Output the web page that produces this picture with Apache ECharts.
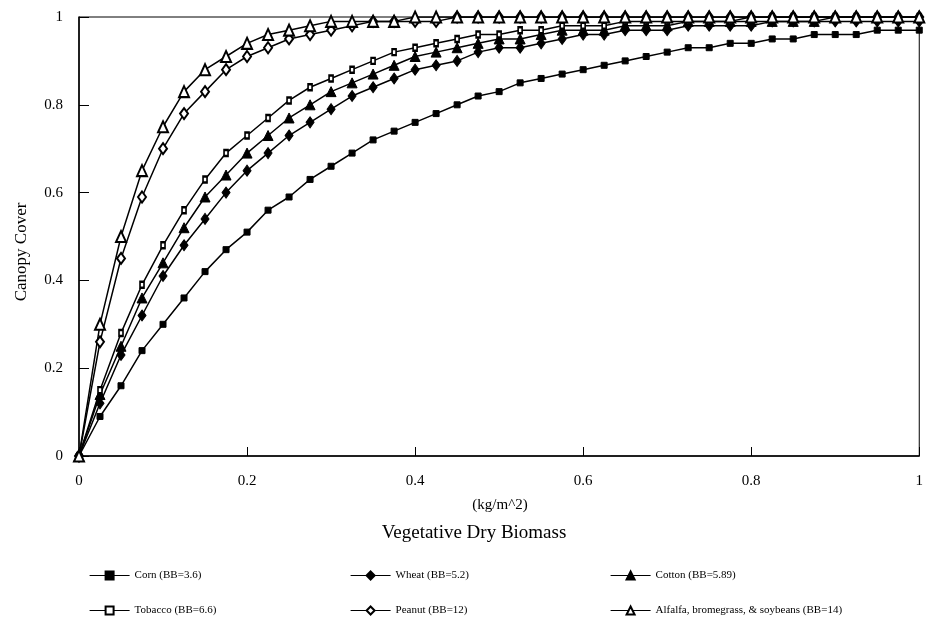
<!DOCTYPE html>
<html>
<head>
<meta charset="utf-8">
<script src="https://cdn.jsdelivr.net/npm/echarts@6/dist/echarts.min.js"></script>
<style>html,body{margin:0;padding:0;background:#fff;}#c{width:926px;height:619px;}</style>
</head>
<body>
<div id="c"></div>
<script>
const biomass = [0,0.025,0.05,0.075,0.1,0.125,0.15,0.175,0.2,0.225,0.25,0.275,0.3,0.325,0.35,0.375,0.4,0.425,0.45,0.475,0.5,0.525,0.55,0.575,0.6,0.625,0.65,0.675,0.7,0.725,0.75,0.775,0.8,0.825,0.85,0.875,0.9,0.925,0.95,0.975,1];
const corn = [0,0.09,0.16,0.24,0.30,0.36,0.42,0.47,0.51,0.56,0.59,0.63,0.66,0.69,0.72,0.74,0.76,0.78,0.80,0.82,0.83,0.85,0.86,0.87,0.88,0.89,0.90,0.91,0.92,0.93,0.93,0.94,0.94,0.95,0.95,0.96,0.96,0.96,0.97,0.97,0.97];
const wheat = [0,0.12,0.23,0.32,0.41,0.48,0.54,0.60,0.65,0.69,0.73,0.76,0.79,0.82,0.84,0.86,0.88,0.89,0.90,0.92,0.93,0.93,0.94,0.95,0.96,0.96,0.97,0.97,0.97,0.98,0.98,0.98,0.98,0.99,0.99,0.99,0.99,0.99,0.99,0.99,0.99];
const cotton = [0,0.14,0.25,0.36,0.44,0.52,0.59,0.64,0.69,0.73,0.77,0.80,0.83,0.85,0.87,0.89,0.91,0.92,0.93,0.94,0.95,0.95,0.96,0.97,0.97,0.97,0.98,0.98,0.98,0.99,0.99,0.99,0.99,0.99,0.99,0.99,1.00,1.00,1.00,1.00,1.00];
const tobacco = [0,0.15,0.28,0.39,0.48,0.56,0.63,0.69,0.73,0.77,0.81,0.84,0.86,0.88,0.90,0.92,0.93,0.94,0.95,0.96,0.96,0.97,0.97,0.98,0.98,0.98,0.99,0.99,0.99,0.99,0.99,0.99,1.00,1.00,1.00,1.00,1.00,1.00,1.00,1.00,1.00];
const peanut = [0,0.26,0.45,0.59,0.70,0.78,0.83,0.88,0.91,0.93,0.95,0.96,0.97,0.98,0.99,0.99,0.99,0.99,1.00,1.00,1.00,1.00,1.00,1.00,1.00,1.00,1.00,1.00,1.00,1.00,1.00,1.00,1.00,1.00,1.00,1.00,1.00,1.00,1.00,1.00,1.00];
const alfalfa = [0,0.30,0.50,0.65,0.75,0.83,0.88,0.91,0.94,0.96,0.97,0.98,0.99,0.99,0.99,0.99,1.00,1.00,1.00,1.00,1.00,1.00,1.00,1.00,1.00,1.00,1.00,1.00,1.00,1.00,1.00,1.00,1.00,1.00,1.00,1.00,1.00,1.00,1.00,1.00,1.00];
const names = ['Corn (BB=3.6)','Wheat (BB=5.2)','Cotton (BB=5.89)','Tobacco (BB=6.6)','Peanut (BB=12)','Alfalfa, bromegrass, & soybeans (BB=14)'];

const FONT = 'Liberation Serif';
const chart = echarts.init(document.getElementById('c'), null, {renderer:'canvas'});
function pairs(ys){ return biomass.map((x,i)=>[x, ys[i]]); }
const specs = [
  {data: corn, symbol:'rect', size:[6,6]},
  {data: wheat, symbol:'diamond', size:[8,11]},
  {data: cotton, symbol:'triangle', size:[10,10]},
  {data: tobacco, symbol:'emptyRect', size:[4,6]},
  {data: peanut, symbol:'emptyDiamond', size:[8,11]},
  {data: alfalfa, symbol:'emptyTriangle', size:[10,11]}
];
const series = specs.map((s,i)=>({
  name: names[i], type:'line', data: pairs(s.data),
  symbol: s.symbol, symbolSize: s.size, showAllSymbol: true,
  lineStyle:{color:'#000', width:1.5},
  itemStyle:{color:'#000', borderColor:'#000', borderWidth:1},
  emphasis:{disabled:true}, animation:false
}));
const legPos = [[89,570],[350,570],[610,570],[89,605],[350,605],[610,605]];
const legend = names.map((n,i)=>({
  data:[n], left: legPos[i][0], top: legPos[i][1], itemWidth:40, itemHeight:10, padding:0,
  lineStyle:{width:1.2},
  textStyle:{fontFamily:FONT, fontSize:11, color:'#000'}, selectedMode:false
}));
chart.setOption({
  backgroundColor:'#fff',
  animation:false,
  grid:{left:79, right:4, top:17, bottom:163, show:true, borderColor:'#000', borderWidth:1},
  xAxis:{type:'value', min:0, max:1, interval:0.2,
    axisLine:{lineStyle:{color:'#000', width:1.5}},
    axisTick:{inside:true, length:9, lineStyle:{color:'#000'}},
    axisLabel:{color:'#000', fontFamily:FONT, fontSize:15, margin:18},
    splitLine:{show:false}},
  yAxis:{type:'value', min:0, max:1, interval:0.2,
    axisLine:{show:true, lineStyle:{color:'#000', width:1.5}},
    axisTick:{show:true, inside:true, length:10, lineStyle:{color:'#000'}},
    axisLabel:{color:'#000', fontFamily:FONT, fontSize:15, margin:16},
    splitLine:{show:false}},
  legend: legend,
  graphic:[
    {type:'text', x:500, y:505, style:{text:'(kg/m^2)', fontFamily:FONT, fontSize:15, fill:'#000', align:'center', verticalAlign:'middle'}},
    {type:'text', x:474, y:533, style:{text:'Vegetative Dry Biomass', fontFamily:FONT, fontSize:19, fill:'#000', align:'center', verticalAlign:'middle'}},
    {type:'text', x:22, y:252, rotation:Math.PI/2, style:{text:'Canopy Cover', fontFamily:FONT, fontSize:17, fill:'#000', align:'center', verticalAlign:'middle'}}
  ],
  series: series
});
</script>
</body>
</html>
